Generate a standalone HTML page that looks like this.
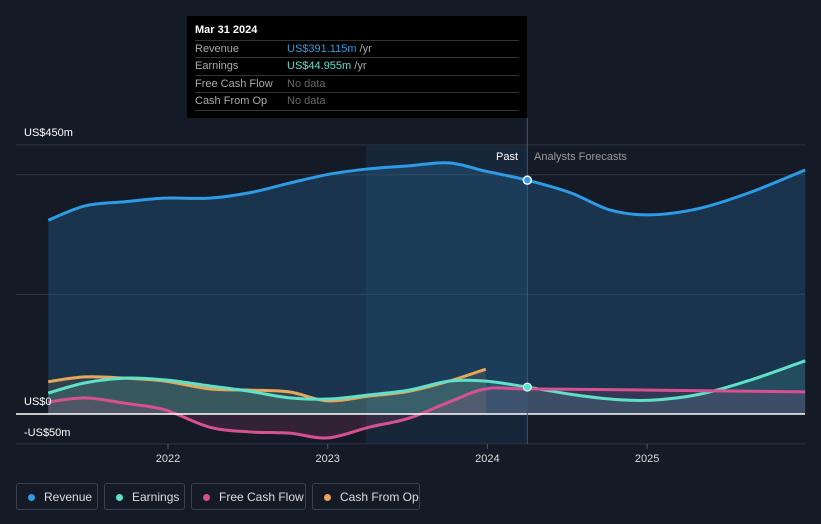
<!DOCTYPE html>
<html><head><meta charset="utf-8"><style>
body{margin:0;background:#151b26;font-family:"Liberation Sans",sans-serif;}
#c{position:relative;width:821px;height:524px;overflow:hidden;background:#151b26}
.tt{position:absolute;left:187px;top:16px;width:340px;height:102px;background:#000;color:#fff;font-size:11px}
.row{position:absolute;left:8px;width:324px;border-top:1px solid #333;height:17px;line-height:17px}
.row span.l{color:#aaa;display:inline-block;width:92px}
.leg{position:absolute;top:483px;height:27px;border:1px solid #3a414d;border-radius:3px;color:#ddd;font-size:12px;line-height:27px;box-sizing:border-box;padding-left:27px}
.leg i{position:absolute;left:11px;top:10px;width:7px;height:7px;border-radius:50%}
</style></head><body>
<div id="c">
<svg id="svg" width="821" height="524" style="position:absolute;left:0;top:0"></svg>
<div class="tt">
<div style="position:absolute;left:8px;top:8px;font-weight:bold">Mar 31 2024</div>
<div class="row" style="top:24px"><span class="l">Revenue</span><span style="color:#2d9be5">US$391.115m</span> <span style="color:#aaa">/yr</span></div>
<div class="row" style="top:41px"><span class="l">Earnings</span><span style="color:#5fe0c8">US$44.955m</span> <span style="color:#aaa">/yr</span></div>
<div class="row" style="top:59px"><span class="l">Free Cash Flow</span><span style="color:#666">No data</span></div>
<div class="row" style="top:76px;border-bottom:1px solid #333"><span class="l">Cash From Op</span><span style="color:#666">No data</span></div>
</div>
<div class="leg" style="left:16px;width:82px"><i style="background:#2d9be5"></i>Revenue</div>
<div class="leg" style="left:104px;width:81px"><i style="background:#5fe0c8"></i>Earnings</div>
<div class="leg" style="left:191px;width:115px"><i style="background:#d6518f"></i>Free Cash Flow</div>
<div class="leg" style="left:312px;width:108px"><i style="background:#e6a75a"></i>Cash From Op</div>
</div>
<script>
const revX=[2021.25,2021.48,2021.73,2021.98,2022.26,2022.51,2022.76,2023.01,2023.26,2023.51,2023.76,2023.99,2024.25,2024.52,2024.77,2025.02,2025.33,2025.65,2025.99];
const revV=[324,348,355,361,361,370,386,401,410,415,420,406,391,370,341,333,344,371,408];
const earnX=[2021.25,2021.48,2021.73,2021.98,2022.26,2022.51,2022.76,2023.01,2023.26,2023.51,2023.76,2023.99,2024.25,2024.52,2024.77,2025.02,2025.33,2025.65,2025.99];
const earnV=[35,52,60,57,47,38,27,25,32,40,55,55,45,33,25,23,33,57,89];
const fcfX=[2021.25,2021.48,2021.73,2021.98,2022.26,2022.51,2022.76,2023.0,2023.26,2023.51,2023.76,2023.99,2024.25,2025.02,2025.99];
const fcfV=[20,27,18,7,-22,-30,-32,-40,-22,-7,20,42,42,40,37];
const cfoX=[2021.25,2021.48,2021.73,2021.98,2022.26,2022.51,2022.76,2023.0,2023.26,2023.51,2023.76,2023.99];
const cfoV=[54,62,60,55,42,40,37,22,30,38,55,75];
const yTicks=[450,0,-50];
const yLabels=["US$450m","US$0","-US$50m"];
const xTicks=[2022,2023,2024,2025];
const grid=[450,400,200,-50];
const X=y=>168+(y-2022)*159.7, Y=v=>414-v*0.598;
const svg=document.getElementById('svg'),NS='http://www.w3.org/2000/svg';
function el(t,a){const e=document.createElementNS(NS,t);for(const k in a)e.setAttribute(k,a[k]);svg.appendChild(e);return e;}
function path(xs,vs){const P=xs.map((x,i)=>[X(x),Y(vs[i])]);let p='M'+P[0][0]+','+P[0][1];
for(let i=0;i<P.length-1;i++){const p0=P[Math.max(i-1,0)],p1=P[i],p2=P[i+1],p3=P[Math.min(i+2,P.length-1)];
const c1x=p1[0]+(p2[0]-p0[0])/6,c1y=p1[1]+(p2[1]-p0[1])/6,c2x=p2[0]-(p3[0]-p1[0])/6,c2y=p2[1]-(p3[1]-p1[1])/6;
p+=' C'+c1x+','+c1y+' '+c2x+','+c2y+' '+p2[0]+','+p2[1];}return p;}
let e;
e=el('rect',{x:X(2023.24),y:145,width:X(2024.25)-X(2023.24),height:299,fill:'#1b3550',opacity:0.45});

grid.forEach(g=>{e=el('line',{x1:16,x2:805,y1:Y(g),y2:Y(g),stroke:'#2e3542','stroke-width':1});});
const series=[[revX,revV,'#2d9be5','revenue',0.2],[cfoX,cfoV,'#e6a75a','cash-from-op',0.12],[earnX,earnV,'#5fe0c8','earnings',0.15],[fcfX,fcfV,'#d6518f','free-cash-flow',0.15]];
series.forEach(s=>{const d=path(s[0],s[1]);const x0=X(s[0][0]),x1=X(s[0][s[0].length-1]);
e=el('path',{d:d+' L'+x1+','+Y(0)+' L'+x0+','+Y(0)+' Z',fill:s[2],opacity:s[4]});});
series.forEach(s=>{e=el('path',{d:path(s[0],s[1]),fill:'none',stroke:s[2],'stroke-width':3});});
e=el('line',{x1:16,x2:805,y1:Y(0),y2:Y(0),stroke:'#fff','stroke-width':1.5});
e=el('line',{x1:X(2024.25),x2:X(2024.25),y1:118,y2:444,stroke:'#2d5b85','stroke-width':1});
e=el('circle',{cx:X(2024.25),cy:Y(391),r:4,fill:'#2d9be5',stroke:'#fff','stroke-width':1.5});
e=el('circle',{cx:X(2024.25),cy:Y(45),r:4,fill:'#5fe0c8',stroke:'#fff','stroke-width':1});
yTicks.forEach((t,i)=>{e=el('text',{x:24,y:Y(t)-(i==2?8:9),fill:'#fff','font-size':11});e.textContent=yLabels[i];});
xTicks.forEach(t=>{e=el('text',{x:X(t),y:462,fill:'#ddd','font-size':11,'text-anchor':'middle'});e.textContent=t;
e=el('line',{x1:X(t),x2:X(t),y1:444,y2:449,stroke:'#555'});});
e=el('text',{x:518,y:160,fill:'#fff','font-size':11,'text-anchor':'end'});e.textContent='Past';
e=el('text',{x:534,y:160,fill:'#999','font-size':11});e.textContent='Analysts Forecasts';
</script>
</body></html>
